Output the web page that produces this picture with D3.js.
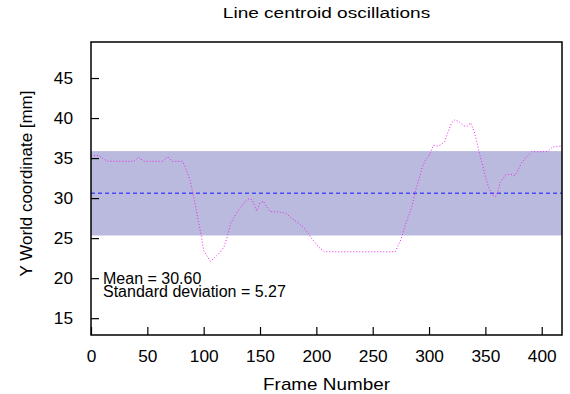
<!DOCTYPE html>
<html>
<head>
<meta charset="utf-8">
<script src="https://cdn.jsdelivr.net/npm/d3@7"></script>
<style>
	body { margin: 0; background: #fff; }
	text { font-family: "Liberation Sans", Arial, Helvetica, sans-serif; fill: #000; }
</style>
</head>
<body>
<div id="chart"></div>
<script>
// Data
var frames = [0, 7, 11, 15, 38, 42, 47, 64, 68, 72, 81, 84, 88, 92, 95, 98, 100, 106, 110, 115,
	118, 121, 124, 130, 137, 140, 143, 147, 150, 153, 156, 159, 165, 173, 178, 184, 189, 193, 195,
	202, 207, 270, 275, 279, 285, 288, 291, 294, 297, 299, 301, 304, 308, 311, 314, 317, 320, 323,
	327, 331, 334, 337, 340, 342, 344, 347, 350, 353, 356, 359, 361, 363, 368, 372, 376, 379, 382,
	387, 391, 405, 409, 412, 418];
var centroidY = [35.3, 35.3, 34.9, 34.6, 34.6, 35.1, 34.6, 34.6, 35.2, 34.6, 34.6, 33.8, 32.2, 29.6,
	27.3, 25.2, 23.4, 22.1, 22.6, 23.3, 23.9, 25.2, 26.9, 28.3, 29.6, 29.9, 29.8, 28.4, 29.4, 29.6,
	28.9, 28.3, 28.3, 28.1, 27.5, 26.9, 26.3, 25.6, 25.1, 23.9, 23.3, 23.3, 24.8, 26.7, 29.0, 31.0,
	32.3, 33.9, 34.8, 35.1, 35.6, 36.6, 36.5, 36.7, 37.1, 38.3, 39.4, 39.8, 39.5, 39.0, 39.0, 39.4,
	38.3, 37.3, 36.0, 34.4, 32.7, 31.3, 30.4, 30.2, 30.8, 31.9, 32.9, 33.0, 32.8, 33.5, 34.4, 35.2,
	35.8, 35.8, 36.3, 36.45, 36.5];
var meanValue = 30.60;
var stdValue = 5.27;
var xTicks = [0, 50, 100, 150, 200, 250, 300, 350, 400];
var yTicks = [15, 20, 25, 30, 35, 40, 45];
var xDomain = [0, 418];
var yDomain = [12.9, 49.5];

var width = 570,
	height = 394,
	margin = {top: 42, right: 8, bottom: 59, left: 91};

var plotW = width - margin.left - margin.right,
	plotH = height - margin.top - margin.bottom;

// the reference text is a bit wider than Liberation Sans, stretch it horizontally
function stretch(sel, sx, x0) {
	sel.attr("transform", function() {
		var t = d3.select(this).attr("transform") || "";
		return t + " translate(" + x0 + ",0) scale(" + sx + ",1) translate(" + (-x0) + ",0)";
	});
}

var svg = d3.select("#chart")
	.append("svg")
	.attr("width", width)
	.attr("height", height);

var x = d3.scaleLinear().domain(xDomain).range([0, plotW]);
var y = d3.scaleLinear().domain(yDomain).range([plotH, 0]);

var g = svg.append("g")
	.attr("transform", "translate(" + margin.left + "," + margin.top + ")");

// std deviation band
g.append("rect")
	.attr("x", 0)
	.attr("width", plotW)
	.attr("y", y(meanValue + stdValue))
	.attr("height", y(meanValue - stdValue) - y(meanValue + stdValue))
	.attr("fill", "#b9badd");

// mean line
g.append("line")
	.attr("x1", 0)
	.attr("x2", plotW)
	.attr("y1", y(meanValue))
	.attr("y2", y(meanValue))
	.attr("stroke", "#4a4af5")
	.attr("stroke-width", 1.4)
	.attr("stroke-dasharray", "4,3");

// the data line
var points = frames.map(function(f, i) { return [f, centroidY[i]]; });
var line = d3.line()
	.x(function(d) { return x(d[0]); })
	.y(function(d) { return y(d[1]); });

g.append("path")
	.datum(points)
	.attr("d", line)
	.attr("fill", "none")
	.attr("stroke", "#f020f0")
	.attr("stroke-width", 1)
	.attr("stroke-dasharray", "1,2");

// axes, ticks pointing inwards
var xAxis = d3.axisBottom(x).tickValues(xTicks).tickSizeInner(-8).tickSizeOuter(0).tickPadding(16);
var yAxis = d3.axisLeft(y).tickValues(yTicks).tickSizeInner(-8).tickSizeOuter(0).tickPadding(18);

var gx = g.append("g")
	.attr("transform", "translate(0," + plotH + ")")
	.call(xAxis);
var gy = g.append("g").call(yAxis);

[gx, gy].forEach(function(a) {
	a.select(".domain").remove();
	a.selectAll(".tick line").attr("stroke", "#000").attr("stroke-width", 1.2);
	a.selectAll(".tick text")
		.style("font-family", "'Liberation Sans', Arial, sans-serif")
		.style("font-size", "16px")
		.attr("fill", "#000");
});
stretch(gx.selectAll(".tick text"), 1.08, 0);
stretch(gy.selectAll(".tick text"), 1.08, -18);

// border
g.append("rect")
	.attr("width", plotW)
	.attr("height", plotH)
	.attr("fill", "none")
	.attr("stroke", "#000")
	.attr("stroke-width", 1.5);

// stats text
var stats = g.append("text")
	.attr("x", 12)
	.attr("y", y(20) + 6)
	.style("font-size", "16px");
stats.append("tspan").attr("x", 12).text("Mean = " + meanValue.toFixed(2));
stats.append("tspan").attr("x", 12).attr("dy", 12.5).text("Standard deviation = " + stdValue.toFixed(2));

// titles
var cx = margin.left + plotW / 2;
svg.append("text")
	.attr("x", cx)
	.attr("y", 18)
	.attr("text-anchor", "middle")
	.style("font-size", "14px")
	.text("Line centroid oscillations")
	.call(stretch, 1.36, cx);

svg.append("text")
	.attr("x", cx)
	.attr("y", 390)
	.attr("text-anchor", "middle")
	.style("font-size", "16px")
	.text("Frame Number")
	.call(stretch, 1.18, cx);

svg.append("text")
	.attr("transform", "translate(32," + (margin.top + plotH / 2 - 5) + ") rotate(-90)")
	.attr("text-anchor", "middle")
	.style("font-size", "16px")
	.text("Y World coordinate [mm]")
	.call(stretch, 1.06, 0);
</script>
</body>
</html>
